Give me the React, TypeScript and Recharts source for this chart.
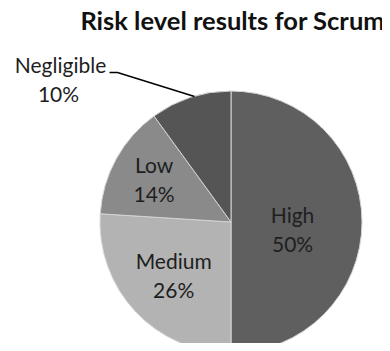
import React from 'react';
import { Pie, PieChart, Cell } from 'recharts';

const levels = ['High', 'Medium', 'Low', 'Negligible'];
const shares = [50, 26, 14, 10];
const shades = ['#5f5f5f', '#b3b3b3', '#8a8a8a', '#555555'];

const data = levels.map((name, i) => ({ name, value: shares[i] }));

const FONT = 'Lato, "Noto Sans", sans-serif';
const RADIAN = Math.PI / 180;
// where the inside labels sit (fraction of radius) plus a small vertical nudge
const insideRatio = [0.47, 0.6, 0.67];
const nudgeY = [8, 0, 0];

const renderLabel = ({ cx, cy, midAngle, outerRadius, index }: any) => {
    const name = data[index].name;
    const pct = `${data[index].value}%`;
    const cos = Math.cos(-midAngle * RADIAN);
    const sin = Math.sin(-midAngle * RADIAN);

    if (index < 3) {
        const r = outerRadius * insideRatio[index];
        const x = cx + r * cos;
        const y = cy + r * sin + nudgeY[index];
        return (
            <text x={x} y={y} fill="#1e1e1e" textAnchor="middle" fontFamily={FONT} fontSize={21}>
                <tspan x={x} y={y - 7}>{name}</tspan>
                <tspan x={x} y={y + 22}>{pct}</tspan>
            </text>
        );
    }

    // outside label with elbow leader line
    const sx = cx + outerRadius * cos + 4;
    const sy = cy + outerRadius * sin - 1;
    const ex = sx - 77;
    const ey = sy - 24;
    const tx = ex - 57;
    return (
        <g>
            <path d={`M${sx},${sy}L${ex},${ey}L${ex - 8},${ey}`} stroke="#000" strokeWidth={1.5} fill="none" />
            <text x={tx} y={ey} fill="#1e1e1e" textAnchor="middle" fontFamily={FONT} fontSize={21}>
                <tspan x={tx} y={ey + 1}>{name}</tspan>
                <tspan x={tx - 2} y={ey + 30}>{pct}</tspan>
            </text>
        </g>
    );
};

const App: React.FC = () => (
    <div style={{ position: 'relative', width: 390, height: 351, margin: -8, background: '#fff' }}>
        <div
            style={{
                position: 'absolute',
                left: 0,
                width: 465,
                top: 5,
                textAlign: 'center',
                fontFamily: FONT,
                fontWeight: 700,
                fontSize: 25.5,
                color: '#111',
                whiteSpace: 'nowrap',
            }}
        >
            Risk level results for Scrum
        </div>
        <PieChart width={390} height={351} margin={{ top: 0, right: 0, bottom: 0, left: 0 }}>
            <Pie
                data={data}
                dataKey="value"
                nameKey="name"
                cx={231}
                cy={222}
                outerRadius={131}
                startAngle={90}
                endAngle={-270}
                stroke="#d4d4d4"
                strokeWidth={1}
                label={renderLabel}
                labelLine={false}
                isAnimationActive={false}
            >
                {data.map((entry, i) => (
                    <Cell key={entry.name} fill={shades[i]} />
                ))}
            </Pie>
        </PieChart>
    </div>
);

export default App;
